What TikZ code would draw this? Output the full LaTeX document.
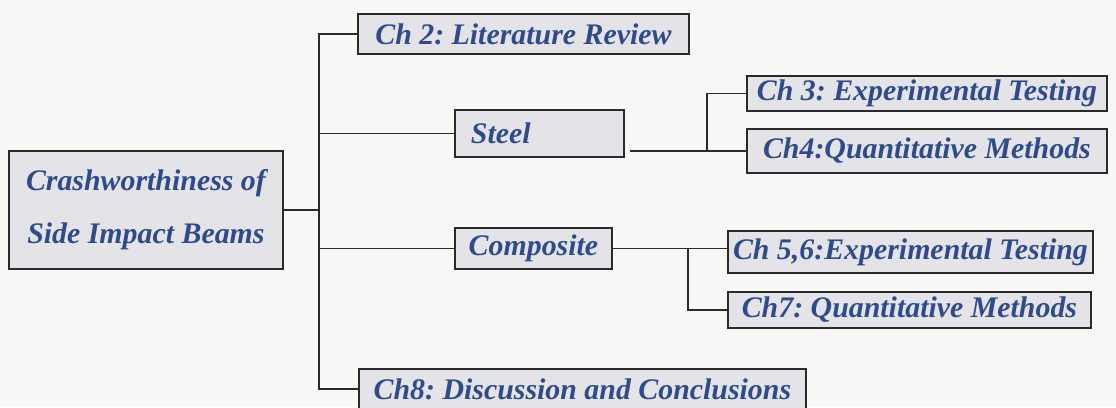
\documentclass[tikz,border=0pt]{standalone}
\usepackage{fontspec}
\setmainfont{Liberation Serif}
\usepackage{xcolor}
\usepackage{tikz}
\usetikzlibrary{positioning,calc}
\definecolor{rvink}{HTML}{2F4B8C}
\definecolor{rvfill}{HTML}{E4E4E8}
\definecolor{rvline}{HTML}{2A2A2A}
\definecolor{rvpage}{HTML}{F8F8F6}
\frenchspacing

\begin{document}
\begin{tikzpicture}[x=0.02cm,y=-0.02cm,
    chbox/.style={draw=rvline,fill=rvfill,line width=1.1pt,anchor=north west,inner sep=0.5pt,
      font=\fontsize{17}{30}\selectfont\bfseries\itshape,text=rvink},
    link/.style={draw=rvline,line width=0.9pt}]
      \fill[rvpage] (0,0) rectangle (1116,407);
      \useasboundingbox (0,0) rectangle (1116,407);
      % boxes
      \node[chbox,minimum width=5.48cm,minimum height=2.36cm,align=center] (main) at (8,150) {Crashworthiness of\\Side Impact Beams};
      \node[chbox,minimum width=6.62cm,minimum height=0.80cm] (ch2) at (357,13) {Ch 2: Literature Review};
      \node[chbox,minimum height=0.94cm,text width=2.74cm,inner xsep=0.32cm,align=left] (steel) at (454,109) {Steel};
      \node[chbox,minimum width=3.14cm,minimum height=0.82cm] (comp) at (454,227) {Composite};
      \node[chbox,minimum width=7.20cm,minimum height=0.70cm] (ch3) at (746,75) {Ch 3: Experimental Testing};
      \node[chbox,minimum width=7.20cm,minimum height=0.88cm] (ch4) at (746,128) {Ch4:Quantitative Methods};
      \node[chbox,minimum width=7.30cm,minimum height=0.84cm] (ch56) at (727,230) {Ch 5,6:Experimental Testing};
      \node[chbox,minimum width=7.26cm,minimum height=0.72cm] (ch7) at (727,291) {Ch7: Quantitative Methods};
      \node[chbox,minimum width=8.94cm,minimum height=0.80cm] (ch8) at (358,368) {Ch8: Discussion and Conclusions};
      % connectors
      \coordinate (spine) at (319,0);
      \coordinate (sjoin) at (707,0);
      \coordinate (cjoin) at (688,0);
      \draw[link] (ch2.west) -| (spine |- ch8.west) -- (ch8.west);
      \draw[link] (main.east) -- (main.east -| spine);
      \draw[link] (steel.west) -- (steel.west -| spine);
      \draw[link] (comp.west) -- (comp.west -| spine);
      \draw[link] ($(steel.east |- ch4.west)+(5,0)$) -- (ch4.west);
      \draw[link] (ch3.west) -| (sjoin |- ch4.west);
      \draw[link] (comp.east) -- (comp.east -| ch56.west);
      \draw[link] (cjoin |- comp.east) |- (ch7.west);
    \end{tikzpicture}
\end{document}
